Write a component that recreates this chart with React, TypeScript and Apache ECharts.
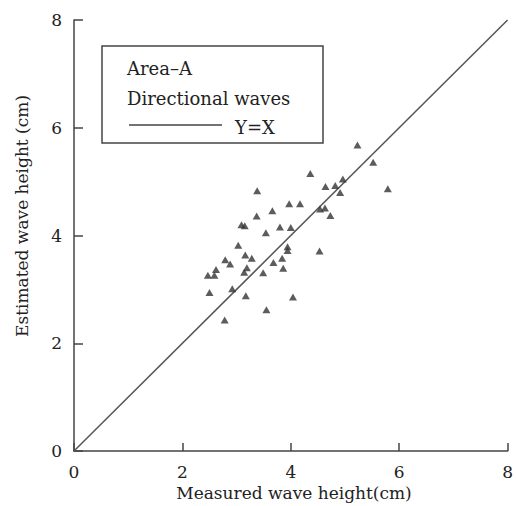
import React, { useEffect, useRef } from "react";
import * as echarts from "echarts";

const xTicks = [0, 2, 4, 6, 8];
const yTicks = [0, 2, 4, 6, 8];
const xTitle = "Measured wave height(cm)";
const yTitle = "Estimated wave height (cm)";
const legendLines = ["Area–A", "Directional waves"];
const refLabel = "Y=X";

// measured (x) vs estimated (y) wave heights, cm
const measured = [
  5.52, 4.36, 4.96, 4.64, 4.82, 5.79, 4.91, 3.38, 3.97, 4.17,
  3.66, 4.54, 4.63, 4.73, 3.37, 3.09, 3.15, 3.54, 3.80, 4.00,
  3.03, 3.94, 3.94, 4.53, 3.16, 3.28, 2.79, 2.88, 3.68, 3.84,
  3.86, 3.19, 3.14, 2.62, 2.47, 2.59, 3.49, 2.50, 2.92, 3.17,
  4.04, 3.55, 2.78, 5.23
];
const estimated = [
  5.36, 5.15, 5.05, 4.91, 4.93, 4.87, 4.80, 4.83, 4.59, 4.59,
  4.46, 4.49, 4.51, 4.37, 4.36, 4.20, 4.18, 4.05, 4.16, 4.15,
  3.82, 3.79, 3.72, 3.71, 3.64, 3.58, 3.55, 3.47, 3.50, 3.58,
  3.39, 3.40, 3.32, 3.37, 3.26, 3.26, 3.31, 2.94, 3.01, 2.88,
  2.86, 2.62, 2.43, 5.68
];
const refLine = [0, 8];

const FONT = "DejaVu Serif";
const INK = "#222";

export default function App() {
  const ref = useRef<HTMLDivElement>(null);
  useEffect(() => {
    if (!ref.current) return;
    const chart = echarts.init(ref.current, undefined, { renderer: "svg" });
    const pts = measured.map((x, i) => [x, estimated[i]]);
    chart.setOption({
      animation: false,
      backgroundColor: "#ffffff",
      grid: { left: 74, right: 6, top: 20, bottom: 55, containLabel: false },
      xAxis: {
        type: "value",
        min: xTicks[0],
        max: xTicks[xTicks.length - 1],
        interval: 2,
        axisLine: { show: true, lineStyle: { color: "#444", width: 1.5 } },
        axisTick: { show: true, inside: true, length: 8, lineStyle: { color: "#444", width: 1.5 } },
        axisLabel: { show: true, margin: 12, fontFamily: FONT, fontSize: 17, color: INK },
        splitLine: { show: false },
      },
      yAxis: {
        type: "value",
        min: yTicks[0],
        max: yTicks[yTicks.length - 1],
        interval: 2,
        axisLine: { show: true, lineStyle: { color: "#444", width: 1.5 } },
        axisTick: { show: true, inside: true, length: 9, lineStyle: { color: "#444", width: 1.5 } },
        axisLabel: { show: true, margin: 12, fontFamily: FONT, fontSize: 17, color: INK },
        splitLine: { show: false },
      },
      series: [
        {
          type: "line",
          data: refLine.map((v) => [v, v]),
          symbol: "none",
          lineStyle: { color: "#555", width: 1.5 },
          silent: true,
          z: 1,
        },
        {
          type: "scatter",
          data: pts,
          symbol: "triangle",
          symbolSize: [8, 7],
          itemStyle: { color: "#333" },
          z: 2,
        },
      ],
      graphic: [
        {
          type: "rect",
          shape: { x: 102, y: 46, width: 221, height: 97 },
          style: { fill: "none", stroke: "#444", lineWidth: 1.5 },
        },
        {
          type: "text",
          x: 127,
          y: 68,
          style: { text: legendLines[0], font: `18px "${FONT}"`, fill: INK, textVerticalAlign: "middle" },
        },
        {
          type: "text",
          x: 127,
          y: 98,
          style: { text: legendLines[1], font: `18px "${FONT}"`, fill: INK, textVerticalAlign: "middle" },
        },
        {
          type: "line",
          shape: { x1: 129, y1: 125, x2: 222, y2: 125 },
          style: { stroke: "#444", lineWidth: 1.5 },
        },
        {
          type: "text",
          x: 235,
          y: 127,
          style: { text: refLabel, font: `18px "${FONT}"`, fill: INK, textVerticalAlign: "middle" },
        },
        {
          type: "text",
          x: 294,
          y: 493,
          style: {
            text: xTitle,
            font: `17px "${FONT}"`,
            fill: INK,
            textAlign: "center",
            textVerticalAlign: "middle",
          },
        },
        {
          type: "text",
          x: 22,
          y: 216,
          rotation: Math.PI / 2,
          style: {
            text: yTitle,
            font: `17px "${FONT}"`,
            fill: INK,
            textAlign: "center",
            textVerticalAlign: "middle",
          },
        },
      ],
    });
    return () => chart.dispose();
  }, []);
  return <div ref={ref} style={{ width: 516, height: 506, position: "absolute", left: 0, top: 0 }} />;
}
